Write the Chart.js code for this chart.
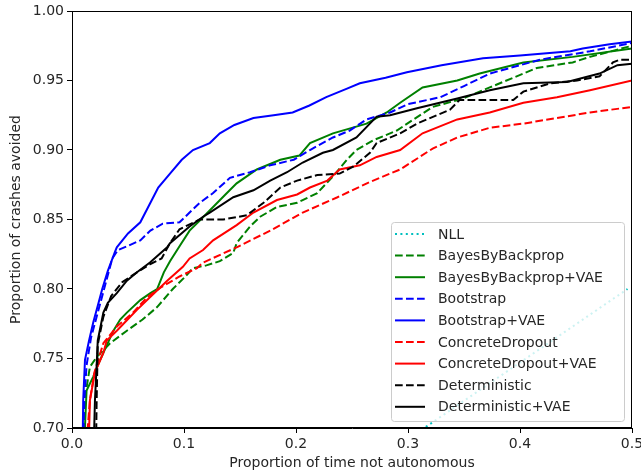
<!DOCTYPE html>
<html>
<head>
<meta charset="utf-8">
<script src="https://cdn.jsdelivr.net/npm/chart.js@4.4.1/dist/chart.umd.min.js"></script>
<style>
  html, body { margin: 0; padding: 0; background: #fff; }
  #wrap { width: 641px; height: 475px; }
</style>
</head>
<body>
<div id="wrap"><canvas id="crashChart" width="641" height="475"></canvas></div>
<script>
// values
const nllX = [0.300, 0.496];
const nllY = [0.692, 0.800];

const bbbX = [0.0105, 0.0116, 0.016, 0.022, 0.028, 0.034, 0.049, 0.063, 0.076, 0.090, 0.100, 0.108, 0.120, 0.132, 0.144, 0.147, 0.159, 0.168, 0.183, 0.201, 0.219, 0.233, 0.2455, 0.254, 0.269, 0.290, 0.322, 0.349, 0.373, 0.385, 0.415, 0.447, 0.4625, 0.500];
const bbbY = [0.690, 0.722, 0.744, 0.751, 0.756, 0.761, 0.770, 0.778, 0.787, 0.800, 0.808, 0.815, 0.817, 0.820, 0.826, 0.833, 0.845, 0.852, 0.859, 0.862, 0.869, 0.881, 0.893, 0.900, 0.907, 0.914, 0.931, 0.937, 0.945, 0.949, 0.959, 0.963, 0.967, 0.975];

const bbbVaeX = [0.011, 0.013, 0.019, 0.023, 0.028, 0.037, 0.043, 0.049, 0.061, 0.070, 0.076, 0.082, 0.0875, 0.097, 0.105, 0.115, 0.126, 0.137, 0.147, 0.165, 0.186, 0.203, 0.2125, 0.233, 0.263, 0.281, 0.293, 0.313, 0.344, 0.364, 0.403, 0.447, 0.500];
const bbbVaeY = [0.690, 0.727, 0.737, 0.745, 0.754, 0.770, 0.778, 0.783, 0.792, 0.797, 0.800, 0.812, 0.820, 0.832, 0.842, 0.850, 0.859, 0.868, 0.876, 0.886, 0.893, 0.896, 0.905, 0.912, 0.919, 0.927, 0.934, 0.945, 0.950, 0.955, 0.963, 0.967, 0.973];

const bootX = [0.010, 0.011, 0.013, 0.017, 0.022, 0.027, 0.032, 0.036, 0.041, 0.050, 0.061, 0.070, 0.081, 0.096, 0.105, 0.114, 0.126, 0.141, 0.159, 0.177, 0.198, 0.2125, 0.233, 0.248, 0.263, 0.284, 0.300, 0.329, 0.350, 0.373, 0.400, 0.418, 0.4625, 0.500];
const bootY = [0.690, 0.720, 0.745, 0.765, 0.780, 0.795, 0.810, 0.822, 0.828, 0.831, 0.835, 0.842, 0.847, 0.848, 0.855, 0.862, 0.869, 0.880, 0.884, 0.889, 0.893, 0.900, 0.909, 0.914, 0.922, 0.927, 0.933, 0.938, 0.946, 0.955, 0.961, 0.965, 0.971, 0.977];

const bootVaeX = [0.0095, 0.010, 0.0116, 0.015, 0.019, 0.023, 0.027, 0.032, 0.038, 0.040, 0.050, 0.061, 0.070, 0.077, 0.0875, 0.098, 0.108, 0.123, 0.132, 0.145, 0.162, 0.180, 0.197, 0.212, 0.227, 0.245, 0.257, 0.280, 0.299, 0.330, 0.367, 0.400, 0.445, 0.456, 0.480, 0.500];
const bootVaeY = [0.690, 0.720, 0.749, 0.762, 0.776, 0.788, 0.800, 0.813, 0.826, 0.830, 0.840, 0.848, 0.862, 0.873, 0.883, 0.893, 0.900, 0.905, 0.912, 0.918, 0.923, 0.925, 0.927, 0.932, 0.938, 0.944, 0.948, 0.952, 0.956, 0.961, 0.966, 0.968, 0.971, 0.973, 0.976, 0.978];

const cdX = [0.013, 0.016, 0.020, 0.028, 0.040, 0.0545, 0.067, 0.079, 0.096, 0.1116, 0.117, 0.147, 0.177, 0.206, 0.237, 0.266, 0.293, 0.322, 0.344, 0.373, 0.403, 0.433, 0.4625, 0.500];
const cdY = [0.690, 0.720, 0.740, 0.761, 0.773, 0.783, 0.794, 0.801, 0.809, 0.815, 0.819, 0.830, 0.842, 0.855, 0.866, 0.877, 0.886, 0.901, 0.909, 0.916, 0.919, 0.923, 0.927, 0.931];

const cdVaeX = [0.015, 0.016, 0.0205, 0.028, 0.031, 0.040, 0.052, 0.058, 0.0696, 0.085, 0.099, 0.105, 0.117, 0.126, 0.147, 0.162, 0.183, 0.201, 0.2125, 0.228, 0.239, 0.257, 0.272, 0.293, 0.313, 0.344, 0.373, 0.403, 0.433, 0.4625, 0.500];
const cdVaeY = [0.690, 0.720, 0.740, 0.754, 0.763, 0.770, 0.780, 0.785, 0.794, 0.806, 0.816, 0.822, 0.828, 0.835, 0.846, 0.855, 0.864, 0.868, 0.873, 0.878, 0.886, 0.889, 0.895, 0.900, 0.912, 0.922, 0.927, 0.934, 0.938, 0.943, 0.950];

const detX = [0.0215, 0.022, 0.023, 0.028, 0.035, 0.045, 0.058, 0.070, 0.080, 0.0875, 0.096, 0.114, 0.135, 0.156, 0.171, 0.186, 0.201, 0.219, 0.239, 0.251, 0.266, 0.272, 0.293, 0.308, 0.3375, 0.346, 0.394, 0.403, 0.427, 0.451, 0.471, 0.483, 0.489, 0.500];
const detY = [0.690, 0.720, 0.760, 0.780, 0.795, 0.805, 0.812, 0.818, 0.822, 0.833, 0.843, 0.850, 0.850, 0.853, 0.862, 0.873, 0.878, 0.882, 0.883, 0.888, 0.898, 0.905, 0.912, 0.919, 0.929, 0.936, 0.936, 0.942, 0.948, 0.950, 0.953, 0.963, 0.965, 0.965];

const detVaeX = [0.0195, 0.0205, 0.022, 0.023, 0.028, 0.032, 0.040, 0.049, 0.058, 0.0696, 0.085, 0.0875, 0.105, 0.117, 0.123, 0.144, 0.162, 0.177, 0.192, 0.206, 0.224, 0.233, 0.254, 0.272, 0.284, 0.308, 0.344, 0.373, 0.403, 0.442, 0.471, 0.487, 0.500];
const detVaeY = [0.690, 0.720, 0.745, 0.763, 0.783, 0.790, 0.797, 0.806, 0.812, 0.819, 0.830, 0.833, 0.845, 0.852, 0.855, 0.866, 0.871, 0.878, 0.884, 0.891, 0.898, 0.900, 0.909, 0.924, 0.925, 0.930, 0.937, 0.943, 0.948, 0.949, 0.955, 0.961, 0.962];

const seriesNames = ['NLL', 'BayesByBackprop', 'BayesByBackprop+VAE', 'Bootstrap', 'Bootstrap+VAE',
    'ConcreteDropout', 'ConcreteDropout+VAE', 'Deterministic', 'Deterministic+VAE'];
const seriesX = [nllX, bbbX, bbbVaeX, bootX, bootVaeX, cdX, cdVaeX, detX, detVaeX];
const seriesY = [nllY, bbbY, bbbVaeY, bootY, bootVaeY, cdY, cdVaeY, detY, detVaeY];
const seriesColors = ['#00bfbf', '#008000', '#008000', '#0000ff', '#0000ff', '#ff0000', '#ff0000', '#000000', '#000000'];
const seriesDash = [[2, 3.4], [7.7, 3.3], [], [7.7, 3.3], [], [7.7, 3.3], [], [7.7, 3.3], []];

const xTicks = [0, 0.1, 0.2, 0.3, 0.4, 0.5];
const yTicks = [0.70, 0.75, 0.80, 0.85, 0.90, 0.95, 1.00];

const FONT = 'DejaVu Sans';
const TEXT = '#262626';

const datasets = seriesNames.map((name, i) => ({
    label: name,
    data: seriesX[i].map((x, j) => ({ x: x, y: seriesY[i][j] })),
    borderColor: seriesColors[i],
    backgroundColor: seriesColors[i],
    borderDash: seriesDash[i],
    borderWidth: 2,
    pointRadius: 0,
    showLine: true,
    fill: false,
    tension: 0,
    order: seriesNames.length - i
}));

// box around the plot, like matplotlib
const framePlugin = {
    id: 'frame',
    afterDatasetsDraw(chart) {
        const a = chart.chartArea;
        const ctx = chart.ctx;
        ctx.save();
        ctx.strokeStyle = '#000';
        ctx.lineWidth = 1;
        ctx.strokeRect(a.left + 0.5, a.top + 0.5, a.right - a.left - 1, a.bottom - a.top - 1);
        ctx.restore();
    }
};

// legend inside the axes, lower right
const innerLegend = {
    id: 'innerLegend',
    afterDatasetsDraw(chart) {
        const ctx = chart.ctx;
        const a = chart.chartArea;
        const boxW = 233, boxH = 199;
        const x0 = a.right - 8 - boxW, y0 = a.bottom - 7 - boxH;
        ctx.save();
        ctx.beginPath();
        if (ctx.roundRect) ctx.roundRect(x0 + 0.5, y0 + 0.5, boxW, boxH, 3);
        else ctx.rect(x0 + 0.5, y0 + 0.5, boxW, boxH);
        ctx.fillStyle = 'rgba(255,255,255,0.8)';
        ctx.fill();
        ctx.strokeStyle = '#cccccc';
        ctx.lineWidth = 1;
        ctx.stroke();
        ctx.font = '14px "' + FONT + '"';
        ctx.textBaseline = 'middle';
        ctx.textAlign = 'left';
        chart.data.datasets.forEach((ds, i) => {
            const cy = y0 + 12 + i * 21.6;
            ctx.beginPath();
            ctx.setLineDash(ds.borderDash);
            ctx.strokeStyle = ds.borderColor;
            ctx.lineWidth = ds.borderWidth;
            ctx.moveTo(x0 + 4, cy);
            ctx.lineTo(x0 + 34, cy);
            ctx.stroke();
            ctx.setLineDash([]);
            ctx.fillStyle = TEXT;
            ctx.fillText(ds.label, x0 + 47, cy + 1);
        });
        ctx.restore();
    }
};

new Chart(document.getElementById('crashChart').getContext('2d'), {
    type: 'scatter',
    data: { datasets: datasets },
    options: {
        responsive: false,
        animation: false,
        layout: { padding: { top: 11, right: 9, left: 0, bottom: 0 } },
        plugins: {
            legend: { display: false },
            tooltip: { enabled: false }
        },
        scales: {
            x: {
                type: 'linear',
                min: 0,
                max: 0.5,
                afterFit: (s) => { s.height = 47; s.paddingLeft = 0; s.paddingRight = 0; },
                afterBuildTicks: (s) => { s.ticks = xTicks.map(v => ({ value: v })); },
                ticks: {
                    padding: 3,
                    color: TEXT,
                    font: { family: FONT, size: 14 },
                    callback: (v) => Number(v).toFixed(1)
                },
                grid: { display: true, drawOnChartArea: false, drawTicks: true, tickLength: 5, color: '#000' },
                border: { display: true, color: '#000' },
                title: {
                    display: true,
                    text: 'Proportion of time not autonomous',
                    color: TEXT,
                    font: { family: FONT, size: 14 },
                    padding: { top: 0, bottom: 3 }
                }
            },
            y: {
                type: 'linear',
                min: 0.7,
                max: 1.0,
                afterFit: (s) => { s.width = 72; s.paddingTop = 0; s.paddingBottom = 0; },
                afterBuildTicks: (s) => { s.ticks = yTicks.map(v => ({ value: v })); },
                ticks: {
                    padding: 3,
                    color: TEXT,
                    font: { family: FONT, size: 14 },
                    callback: (v) => Number(v).toFixed(2)
                },
                grid: { display: true, drawOnChartArea: false, drawTicks: true, tickLength: 5, color: '#000' },
                border: { display: true, color: '#000' },
                title: {
                    display: true,
                    text: 'Proportion of crashes avoided',
                    color: TEXT,
                    font: { family: FONT, size: 14 },
                    padding: { top: 7.5, bottom: 0 }
                }
            }
        }
    },
    plugins: [framePlugin, innerLegend]
});
</script>
</body>
</html>
